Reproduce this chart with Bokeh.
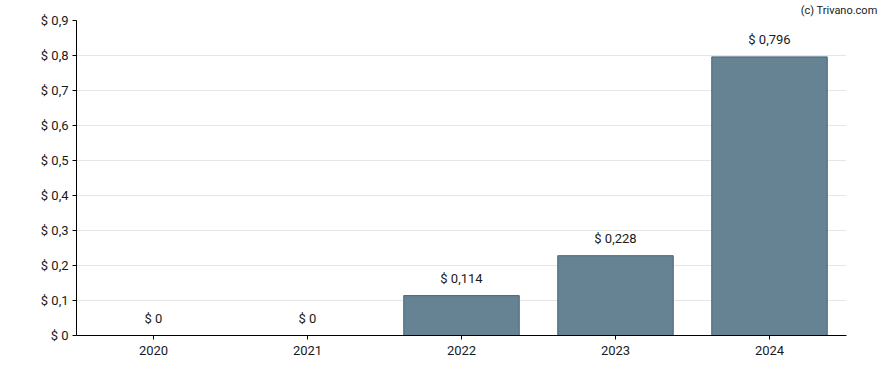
from bokeh.plotting import figure
from bokeh.models import ColumnDataSource, FixedTicker, Title
from bokeh.core.properties import value
from bokeh.embed import file_html
from bokeh.resources import INLINE

years = ["2020", "2021", "2022", "2023", "2024"]
values = [0.0, 0.0, 0.114, 0.228, 0.796]
labels = ["$ 0", "$ 0", "$ 0,114", "$ 0,228", "$ 0,796"]
y_ticks = [0.0, 0.1, 0.2, 0.3, 0.4, 0.5, 0.6, 0.7, 0.8, 0.9]
y_tick_labels = ["$ 0", "$ 0,1", "$ 0,2", "$ 0,3", "$ 0,4", "$ 0,5", "$ 0,6", "$ 0,7", "$ 0,8", "$ 0,9"]

src = ColumnDataSource(dict(x=years, top=values, label=labels))

p = figure(x_range=years, y_range=(0, 0.9), width=888, height=370,
           output_backend="svg", toolbar_location=None,
           min_border_left=76, min_border_right=42, min_border_top=20, min_border_bottom=35)
p.outline_line_color = None
p.background_fill_color = "white"

p.vbar(x="x", top="top", width=0.75, source=src,
       fill_color="#668394", line_color="#46657b", line_width=1)

p.text(x="x", y="top", text="label", source=src, text_align="center",
       text_baseline="bottom", y_offset=-10, text_font=value("Roboto"),
       text_font_size="13px", text_color="#1a1a1a")

p.x_range.range_padding = 0
p.xgrid.grid_line_color = None
p.ygrid.grid_line_color = "#e6e6e6"
p.ygrid.grid_line_width = 1

p.yaxis.ticker = FixedTicker(ticks=y_ticks)
p.yaxis.major_label_overrides = {t: l for t, l in zip(y_ticks, y_tick_labels)}
for ax in (p.xaxis, p.yaxis):
    ax[0].axis_line_color = "black"
    ax[0].axis_line_width = 1
    ax[0].major_tick_line_color = "black"
    ax[0].major_tick_in = 0
    ax[0].major_tick_out = 4
    ax[0].minor_tick_line_color = None
    ax[0].major_label_text_font = "Roboto"
    ax[0].major_label_text_font_size = "13px"
    ax[0].major_label_text_color = "#1a1a1a"
p.yaxis.major_label_standoff = 4
p.xaxis.major_label_standoff = 6

p.add_layout(Title(text="(c) Trivano.com", align="right", offset=-31, standoff=4,
                   vertical_align="top",
                   text_font="Roboto", text_font_size="11px", text_font_style="normal",
                   text_color="#1a1a1a"), "above")

open("out.html", "w").write(file_html(p, INLINE))
